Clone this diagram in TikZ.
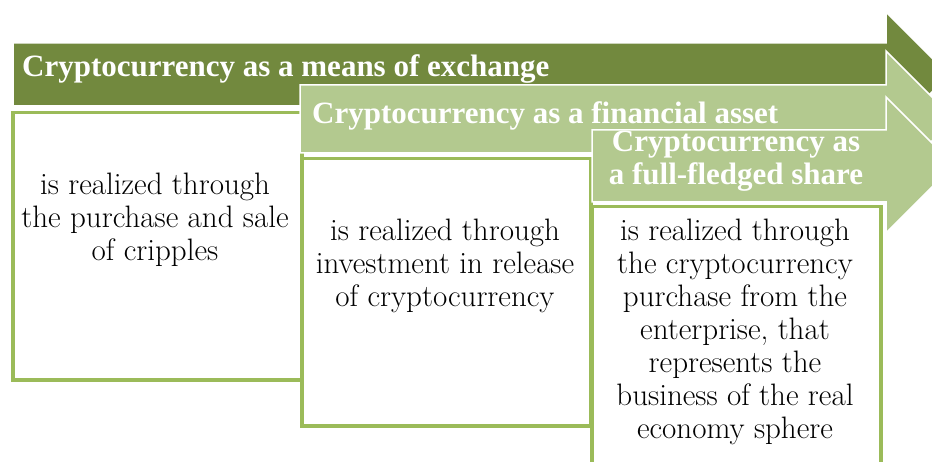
\documentclass[tikz,border=0pt]{standalone}
\usepackage{fontspec}
\newfontfamily\headfont{Liberation Serif}
\usetikzlibrary{positioning}
\definecolor{dgreen}{RGB}{114,137,62}
\definecolor{lgreen}{RGB}{179,201,143}
\definecolor{bgreen}{RGB}{155,187,89}

\tikzset{
  stagearrow/.style={draw=white, line width=1.5pt},
  txtbox/.style={draw=bgreen, line width=3.5pt, fill=white, anchor=north west,
    minimum width=289pt, minimum height=267pt, inner sep=0pt},
  headtxt/.style={text=white, inner sep=0pt, align=center,
    font=\headfont\bfseries\fontsize{31}{33}\selectfont},
  bodytxt/.style={inner sep=0pt, align=center, font=\fontsize{31}{33}\selectfont}
}

\begin{document}
\begin{tikzpicture}[x=1pt,y=-1pt]
  \useasboundingbox (0,0) rectangle (932,462);
  \clip (0,0) rectangle (932,462);

  % exchange
  \fill [dgreen, stagearrow] (13,43) -- (886,43) -- (886,12) -- (949,75)
    -- (886,138) -- (886,106) -- (13,106) -- cycle;
  \node [txtbox] (box1) at (11,111) {};
  \node [headtxt, anchor=base west] (head1) at (22,77) {Cryptocurrency as a means of exchange};
  \node [bodytxt] (body1) at (155,220) {is realized through\\the purchase and sale\\of cripples};

  % financial asset
  \fill [lgreen, stagearrow] (300,85) -- (886,85) -- (886,51) -- (954,119)
    -- (886,187) -- (886,153) -- (300,153) -- cycle;
  \node [txtbox] (box2) at (300,157) {};
  \node [headtxt, anchor=base west] (head2) at (312,124) {Cryptocurrency as a financial asset};
  \node [bodytxt] (body2) at (445,266) {is realized through\\investment in release\\of cryptocurrency};

  % share
  \fill [lgreen, stagearrow] (592,130) -- (886,130) -- (886,97) -- (954,165)
    -- (886,233) -- (886,202) -- (592,202) -- cycle;
  \node [txtbox] (box3) at (590,205) {};
  \node [headtxt, anchor=base] (head3) at (736,185) {Cryptocurrency as\\a full-fledged share};
  \node [bodytxt] (body3) at (735,332) {is realized through\\the cryptocurrency\\purchase from the\\enterprise, that\\represents the\\business of the real\\economy sphere};
\end{tikzpicture}
\end{document}
